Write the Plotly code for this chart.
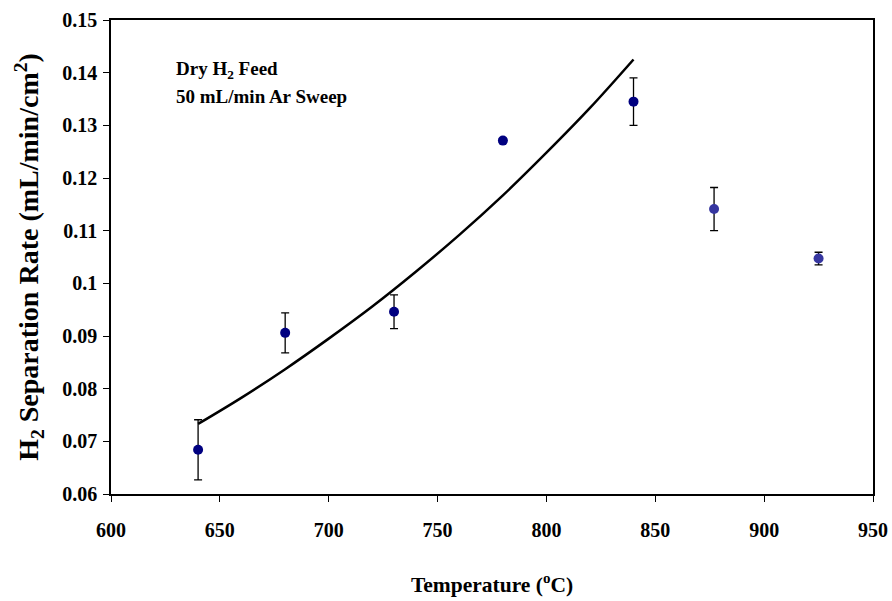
import plotly.graph_objects as go

# Measured data (series 1: navy)
temp1 = [640, 680, 730, 780, 840]
rate1 = [0.0684, 0.0906, 0.0946, 0.1271, 0.1345]
err1 = [0.0057, 0.0038, 0.0032, 0.0004, 0.0045]

# Measured data (series 2: lighter blue)
temp2 = [877, 925]
rate2 = [0.1141, 0.1047]
err2 = [0.0041, 0.0012]

# Fit curve
fit_t = [640, 660, 680, 700, 720, 740, 760, 780, 800, 820, 840]
fit_r = [0.0733, 0.0783, 0.0837, 0.0895, 0.0956, 0.1022, 0.1092, 0.1167, 0.1248, 0.1333, 0.1425]

x_ticks = [600, 650, 700, 750, 800, 850, 900, 950]
y_ticks = [0.06, 0.07, 0.08, 0.09, 0.10, 0.11, 0.12, 0.13, 0.14, 0.15]
y_tick_text = ["0.06", "0.07", "0.08", "0.09", "0.1", "0.11", "0.12", "0.13", "0.14", "0.15"]

font_family = "Liberation Serif"

fig = go.Figure()
fig.add_trace(go.Scatter(x=fit_t, y=fit_r, mode="lines", line=dict(color="black", width=2.5, shape="spline"),
                         showlegend=False, hoverinfo="skip"))
fig.add_trace(go.Scatter(x=temp1, y=rate1, mode="markers",
                         marker=dict(color="#000080", size=10),
                         error_y=dict(type="data", array=err1, color="black", thickness=1.3, width=4),
                         showlegend=False))
fig.add_trace(go.Scatter(x=temp2, y=rate2, mode="markers",
                         marker=dict(color="#3636a0", size=10),
                         error_y=dict(type="data", array=err2, color="black", thickness=1.3, width=4),
                         showlegend=False))

fig.update_layout(
    width=892, height=601,
    margin=dict(l=111, r=19, t=20, b=107),
    paper_bgcolor="white", plot_bgcolor="white",
    font=dict(family=font_family, color="black"),
    xaxis=dict(range=[600, 950], tickvals=x_ticks, ticks="outside", ticklen=6, tickcolor="black",
               showline=True, linecolor="black", linewidth=1.5, mirror=True, showgrid=False, zeroline=False,
               automargin=False,
               tickfont=dict(size=20, family=font_family, weight="bold"), ticklabelstandoff=11,
               title=dict(text="<b>Temperature (<sup>o</sup>C)</b>", font=dict(size=21.5), standoff=37)),
    yaxis=dict(range=[0.06, 0.15], tickvals=y_ticks, ticktext=y_tick_text, ticks="outside", ticklen=6,
               tickcolor="black", showline=True, linecolor="black", linewidth=1.5, mirror=True,
               showgrid=False, zeroline=False, automargin=False,
               tickfont=dict(size=20, family=font_family, weight="bold"),
               ticklabelstandoff=2,
               title=dict(text="<b>H<sub>2</sub> Separation Rate (mL/min/cm<sup>2</sup>)</b>", font=dict(size=28), standoff=15)),
)

fig.add_annotation(x=0.083, y=0.894, xref="paper", yref="paper", xanchor="left", yanchor="middle",
                   text="<b>Dry H<sub>2</sub> Feed</b>", showarrow=False, font=dict(size=19))
fig.add_annotation(x=0.083, y=0.838, xref="paper", yref="paper", xanchor="left", yanchor="middle",
                   text="<b>50 mL/min Ar Sweep</b>", showarrow=False, font=dict(size=19))

fig.write_html("out.html")
